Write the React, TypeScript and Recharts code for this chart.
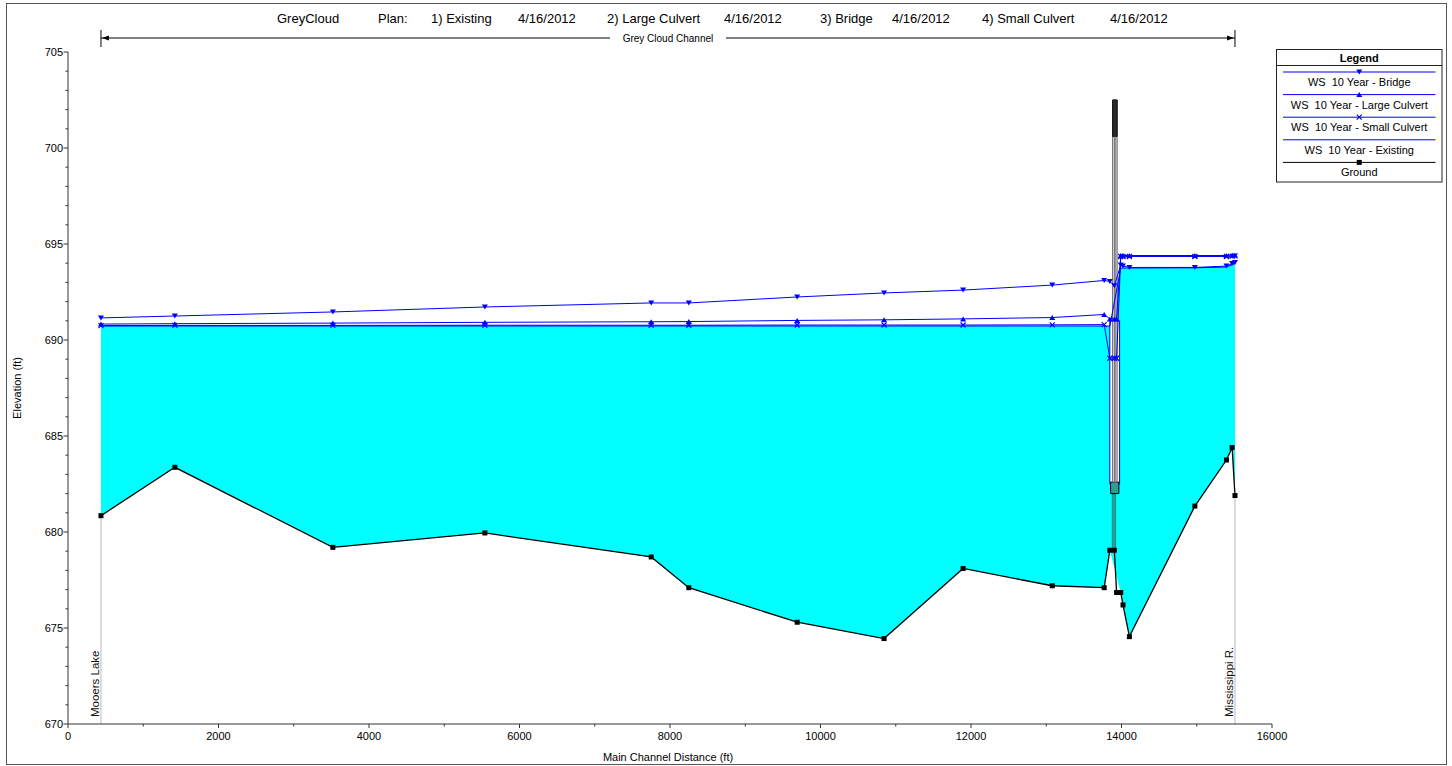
import React from 'react';
import { ComposedChart, Area, Line, XAxis, YAxis, ReferenceLine, ReferenceArea } from 'recharts';

const FONT = '"Liberation Sans", Arial, sans-serif';

// River stations (ft)
const stations = [438, 1420, 3520, 5540, 7750, 8250, 9690, 10845, 11895, 13080, 13770, 13845, 13905, 13935, 13990, 14020, 14105, 14975, 15395, 15470, 15508];
const ground = [680.85, 683.37, 679.2, 679.95, 678.7, 677.1, 675.3, 674.45, 678.1, 677.2, 677.1, 679.05, 679.05, 676.85, 676.85, 676.2, 674.55, 681.35, 683.75, 684.4, 681.9];
const wsBridge = [691.15, 691.25, 691.46, 691.72, 691.93, 691.93, 692.24, 692.45, 692.6, 692.86, 693.1, 693.05, 692.82, null, 693.9, 693.85, 693.78, 693.78, 693.85, 693.98, 694.03];
const wsLargeCulvert = [690.83, 690.85, 690.88, 690.92, 690.95, 690.96, 691.02, 691.05, 691.1, 691.17, 691.33, 691.1, 691.1, 691.1, 694.4, 694.4, 694.4, 694.4, 694.4, 694.42, 694.43];
const wsSmallCulvert = [690.75, 690.76, 690.76, 690.77, 690.77, 690.77, 690.78, 690.78, 690.78, 690.79, 690.8, 689.05, 689.05, 689.05, 694.35, 694.35, 694.35, 694.35, 694.35, 694.37, 694.38];
const wsExisting = [690.73, 690.73, 690.73, 690.73, 690.73, 690.73, 690.73, 690.73, 690.73, 690.73, 690.73, 690.72, null, null, 693.75, 693.75, 693.75, 693.76, 693.8, 693.92, 693.98];

const xTicks = [0, 1000, 2000, 3000, 4000, 5000, 6000, 7000, 8000, 9000, 10000, 11000, 12000, 13000, 14000, 15000, 16000];
const yTicks = Array.from({ length: 36 }, (_, i) => 670 + i);
const xDomain = [0, 16000];
const yDomain = [670, 705];

// Bridge / culvert structure (station, elevation)
const bridgeOpening = { st: [13845, 13975], el: [682.5, 691.0] };
const bridgeDeck = { st: [13882, 13942], el: [682.6, 702.5] };
const deckTopLow = 700.6;
const culvertInvert = { st: [13855, 13965], el: [682.0, 682.6] };
const pierBase = { st: [13877, 13922], el: [679.05, 682.0] };

const reachNames = ['Mooers Lake', 'Mississippi R.'];
const reachTitle = 'Grey Cloud Channel';
const titleParts: [string, number][] = [
  ['GreyCloud', 277], ['Plan:', 378], ['1) Existing', 431], ['4/16/2012', 518], ['2) Large Culvert', 607],
  ['4/16/2012', 724], ['3) Bridge', 820], ['4/16/2012', 892], ['4) Small Culvert', 982], ['4/16/2012', 1110],
];

const rows = stations.map((s, i) => ({
  station: s,
  ground: ground[i],
  bridge: wsBridge[i],
  large: wsLargeCulvert[i],
  small: wsSmallCulvert[i],
  existing: wsExisting[i],
}));

const BLUE = '#0000ff';

type MarkerKind = 'down' | 'up' | 'x' | 'square' | 'none';

const markerPath = (kind: MarkerKind, cx: number, cy: number, color: string, key?: any) => {
  if (kind === 'down') return <path key={key} d={`M${cx - 3},${cy - 2.5}L${cx + 3},${cy - 2.5}L${cx},${cy + 2.5}Z`} fill={color} />;
  if (kind === 'up') return <path key={key} d={`M${cx - 3},${cy + 2.5}L${cx + 3},${cy + 2.5}L${cx},${cy - 2.5}Z`} fill={color} />;
  if (kind === 'x') return <path key={key} d={`M${cx - 2.5},${cy - 2.5}L${cx + 2.5},${cy + 2.5}M${cx - 2.5},${cy + 2.5}L${cx + 2.5},${cy - 2.5}`} stroke={color} strokeWidth={1.2} />;
  if (kind === 'square') return <rect key={key} x={cx - 2.5} y={cy - 2.5} width={5} height={5} fill={color} />;
  return null;
};

const series: { key: string; name: string; color: string; marker: MarkerKind; width: number }[] = [
  { key: 'bridge', name: 'WS  10 Year - Bridge', color: BLUE, marker: 'down', width: 1 },
  { key: 'large', name: 'WS  10 Year - Large Culvert', color: BLUE, marker: 'up', width: 1 },
  { key: 'small', name: 'WS  10 Year - Small Culvert', color: BLUE, marker: 'x', width: 1 },
  { key: 'existing', name: 'WS  10 Year - Existing', color: BLUE, marker: 'none', width: 1 },
  { key: 'ground', name: 'Ground', color: '#000', marker: 'square', width: 1.3 },
];

const makeDot = (kind: MarkerKind, color: string) => (p: any) => {
  const { cx, cy, index, value } = p;
  if (kind === 'none' || cx == null || cy == null || value == null || Number.isNaN(cy)) return <g key={`d${index}`} />;
  return markerPath(kind, cx, cy, color, `d${index}`);
};

const XTick = (p: any) => {
  const { x, y, payload } = p;
  const v = payload.value;
  const major = v % 2000 === 0;
  return (
    <g>
      <line x1={x} x2={x} y1={y} y2={y + (major ? 4 : 2.5)} stroke="#333" />
      {major && (
        <text x={x} y={y + 16} textAnchor="middle" fontSize={11} fontFamily={FONT} fill="#000">{v}</text>
      )}
    </g>
  );
};

const YTick = (p: any) => {
  const { x, y, payload } = p;
  const v = payload.value;
  const major = v % 5 === 0;
  return (
    <g>
      <line x1={x - (major ? 4.5 : 2.5)} x2={x} y1={y} y2={y} stroke="#333" />
      {major && (
        <text x={x - 5} y={y + 4} textAnchor="end" fontSize={11} fontFamily={FONT} fill="#000">{v}</text>
      )}
    </g>
  );
};

const makeReachEnd = (name: string) => (p: any) => {
  const x = p.x1;
  const yb = Math.max(p.y1, p.y2);
  const yt = Math.min(p.y1, p.y2);
  return (
    <g>
      <line x1={x} x2={x} y1={yt} y2={yb} stroke="#b8b8b8" strokeWidth={1} />
      <text transform={`translate(${x - 1.5},${yb - 7}) rotate(-90)`} fontSize={11.5} fontFamily={FONT} fill="#111">{name}</text>
    </g>
  );
};

const ChannelSpan = (p: any) => {
  const xa = Math.min(p.x1, p.x2);
  const xb = Math.max(p.x1, p.x2);
  const y = Math.min(p.y1, p.y2) - 14;
  const mid = (xa + xb) / 2;
  return (
    <g>
      <line x1={xa} x2={xb} y1={y} y2={y} stroke="#000" strokeWidth={1} />
      <line x1={xa} x2={xa} y1={y - 8} y2={y + 9} stroke="#000" />
      <line x1={xb} x2={xb} y1={y - 8} y2={y + 9} stroke="#000" />
      <path d={`M${xa + 1},${y} l7,-2.5 l0,5 z`} fill="#000" />
      <path d={`M${xb - 1},${y} l-7,-2.5 l0,5 z`} fill="#000" />
      <rect x={mid - 58} y={y - 6} width={116} height={12} fill="#fff" />
      <text x={mid} y={y + 4} textAnchor="middle" fontSize={10} fontFamily={FONT} fill="#000">{reachTitle}</text>
    </g>
  );
};

const Legend = () => {
  const x0 = 1276.5, y0 = 49.5, w = 165.5, h = 132.5;
  const cx = x0 + w / 2;
  return (
    <g fontFamily={FONT}>
      <rect x={x0} y={y0} width={w} height={h} fill="#fff" stroke="#222" strokeWidth={1} />
      <text x={cx} y={y0 + 12} textAnchor="middle" fontSize={11} fontWeight="bold" fill="#000">Legend</text>
      <line x1={x0} x2={x0 + w} y1={y0 + 16} y2={y0 + 16} stroke="#222" />
      {series.map((s, i) => {
        const ly = y0 + 22.5 + i * 22.6;
        return (
          <g key={s.key}>
            <line x1={x0 + 6.5} x2={x0 + w - 6.5} y1={ly} y2={ly} stroke={s.color} strokeWidth={1} />
            {markerPath(s.marker, cx, ly, s.color)}
            <text x={cx} y={ly + 14} textAnchor="middle" fontSize={11} fill="#000" style={{ whiteSpace: 'pre' }}>{s.name}</text>
          </g>
        );
      })}
    </g>
  );
};

export default function App() {
  const last = stations.length - 1;
  return (
    <div style={{ position: 'absolute', left: 0, top: 0, width: 1452, height: 766, background: '#fff' }}>
      <ComposedChart width={1452} height={766} data={rows} margin={{ top: 52, right: 180, bottom: 12, left: 8 }}>
        <XAxis dataKey="station" type="number" domain={xDomain} ticks={xTicks} interval={0} height={30}
          tickSize={0} tickMargin={0} tickLine={false} tick={<XTick />} axisLine={{ stroke: '#333' }} allowDataOverflow />
        <YAxis type="number" domain={yDomain} ticks={yTicks} interval={0} width={60}
          tickSize={0} tickMargin={0} tickLine={false} tick={<YTick />} axisLine={{ stroke: '#333' }} allowDataOverflow />
        <Area dataKey={(d: any) => (d.ground != null && d.existing != null ? [d.ground, d.existing] : null)}
          fill="#00ffff" fillOpacity={1} stroke="none" connectNulls isAnimationActive={false} dot={false} activeDot={false} />
        <ReferenceArea x1={bridgeOpening.st[0]} x2={bridgeOpening.st[1]} y1={bridgeOpening.el[0]} y2={bridgeOpening.el[1]}
          fill="#ffffff" fillOpacity={1} stroke={BLUE} strokeWidth={1} />
        <ReferenceArea x1={pierBase.st[0]} x2={pierBase.st[1]} y1={pierBase.el[0]} y2={pierBase.el[1]}
          fill="#2a9d9d" fillOpacity={1} stroke="#1a5a5a" strokeWidth={0.5} />
        <ReferenceArea x1={culvertInvert.st[0]} x2={culvertInvert.st[1]} y1={culvertInvert.el[0]} y2={culvertInvert.el[1]}
          fill="#2a9d9d" fillOpacity={1} stroke="#000" strokeWidth={1} />
        <ReferenceArea x1={bridgeDeck.st[0]} x2={bridgeDeck.st[1]} y1={bridgeDeck.el[0]} y2={bridgeDeck.el[1]}
          fill="#d6d6d6" fillOpacity={1} stroke="#6a6a6a" strokeWidth={1} />
        <ReferenceLine segment={[{ x: (bridgeDeck.st[0] + bridgeDeck.st[1]) / 2, y: bridgeDeck.el[0] }, { x: (bridgeDeck.st[0] + bridgeDeck.st[1]) / 2, y: deckTopLow }]}
          stroke="#707070" strokeWidth={1.5} />
        <ReferenceArea x1={bridgeDeck.st[0]} x2={bridgeDeck.st[1]} y1={deckTopLow} y2={bridgeDeck.el[1]}
          fill="#2a2a2a" fillOpacity={1} stroke="#111" strokeWidth={1} />
        <ReferenceLine segment={[{ x: stations[0], y: yDomain[0] }, { x: stations[0], y: ground[0] }]} ifOverflow="visible"
          shape={makeReachEnd(reachNames[0])} />
        <ReferenceLine segment={[{ x: stations[last], y: yDomain[0] }, { x: stations[last], y: ground[last] }]} ifOverflow="visible"
          shape={makeReachEnd(reachNames[1])} />
        <ReferenceLine segment={[{ x: stations[0], y: yDomain[1] }, { x: stations[last], y: yDomain[1] }]} ifOverflow="visible"
          shape={ChannelSpan} />
        {series.map((s) => (
          <Line key={s.key} type="linear" dataKey={s.key} name={s.name} stroke={s.color} strokeWidth={s.width}
            dot={makeDot(s.marker, s.color)} activeDot={false} connectNulls isAnimationActive={false} />
        ))}
      </ComposedChart>
      <svg width={1452} height={766} style={{ position: 'absolute', left: 0, top: 0, pointerEvents: 'none' }}>
        <rect x={6.5} y={3.5} width={1440} height={761} fill="none" stroke="#555" strokeWidth={1} />
        {titleParts.map(([t, x], i) => (
          <text key={i} x={x} y={23} fontSize={13} fontFamily={FONT} fill="#000">{t}</text>
        ))}
        <text transform="translate(21,388) rotate(-90)" textAnchor="middle" fontSize={11} fontFamily={FONT} fill="#000">Elevation (ft)</text>
        <text x={668} y={761} textAnchor="middle" fontSize={11} fontFamily={FONT} fill="#000">Main Channel Distance (ft)</text>
        <Legend />
      </svg>
    </div>
  );
}
